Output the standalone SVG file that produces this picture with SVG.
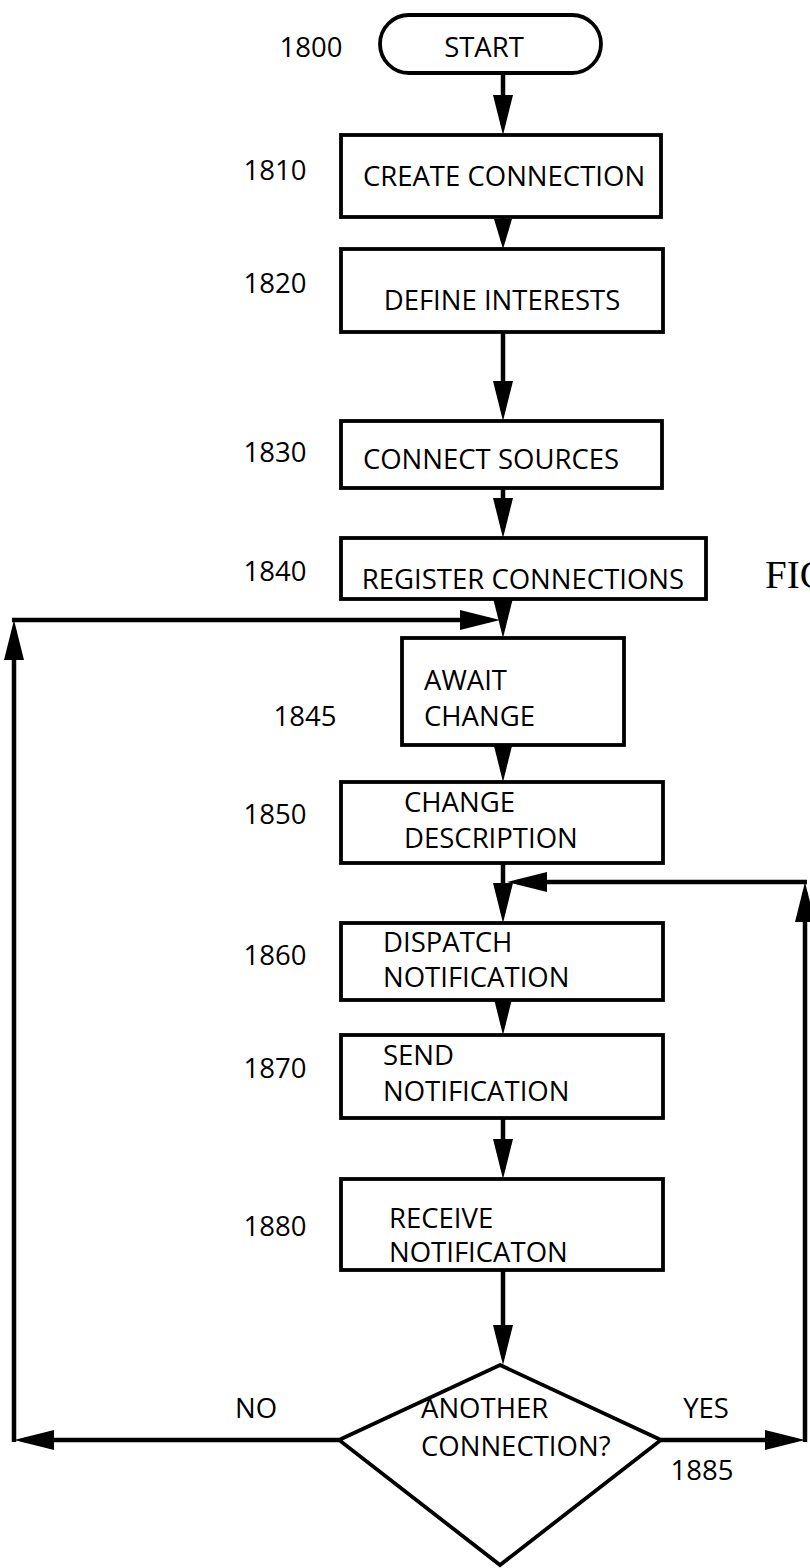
<svg xmlns="http://www.w3.org/2000/svg" width="810" height="1568" viewBox="0 0 810 1568">
<style>
.box{fill:#fff;stroke:#000;stroke-width:3.8}
.t{font-family:"Open Sans","DejaVu Sans",sans-serif;font-size:27.5px;fill:#000}
.c{text-anchor:middle}
.ln{fill:none;stroke:#000;stroke-width:4.5}
.fig{font-family:"Liberation Serif",serif;font-size:39px;fill:#000}
</style>
<defs>
<marker id="ah" viewBox="0 0 40 20" refX="30" refY="10" markerWidth="40" markerHeight="20" markerUnits="userSpaceOnUse" orient="auto"><path d="M0,0 L40,10 L0,20 Z" fill="#000"/></marker>
<marker id="ahs" viewBox="0 0 30 18" refX="22" refY="9" markerWidth="30" markerHeight="18" markerUnits="userSpaceOnUse" orient="auto"><path d="M0,0 L30,9 L0,18 Z" fill="#000"/></marker>
</defs>
<rect width="810" height="1568" fill="#fff"/>
<g id="connectors">
<path class="ln" d="M503,73 V125" marker-end="url(#ah)"/>
<path class="ln" d="M503,217 V241" marker-end="url(#ahs)"/>
<path class="ln" d="M503,332 V411" marker-end="url(#ah)"/>
<path class="ln" d="M503,488 V528" marker-end="url(#ah)"/>
<path class="ln" d="M503,599 V628" marker-end="url(#ah)"/>
<path class="ln" d="M503,745 V772" marker-end="url(#ah)"/>
<path class="ln" d="M503,863 V913" marker-end="url(#ah)"/>
<path class="ln" d="M503,1000 V1025" marker-end="url(#ah)"/>
<path class="ln" d="M503,1118 V1169" marker-end="url(#ah)"/>
<path class="ln" d="M503,1270 V1355" marker-end="url(#ah)"/>
<path class="ln" d="M339,1440 H24" marker-end="url(#ah)"/>
<path class="ln" d="M14,1442 V630" marker-end="url(#ah)"/>
<path class="ln" d="M12,620 H490" marker-end="url(#ah)"/>
<path class="ln" d="M661,1440 H795" marker-end="url(#ah)"/>
<path class="ln" d="M805,1442 V892" marker-end="url(#ah)"/>
<path class="ln" d="M807,882 H517" marker-end="url(#ah)"/>
</g>
<g id="n1800">
<rect class="box" x="380" y="15" width="221" height="58" rx="29" ry="29"/>
<text class="t c" x="484" y="57">START</text>
<text class="t c" x="311" y="57">1800</text>
</g>
<g id="n1810">
<rect class="box" x="341" y="135" width="320" height="82"/>
<text class="t c" x="504" y="186">CREATE CONNECTION</text>
<text class="t c" x="275" y="180">1810</text>
</g>
<g id="n1820">
<rect class="box" x="341" y="249" width="322" height="83"/>
<text class="t c" x="502" y="310">DEFINE INTERESTS</text>
<text class="t c" x="275" y="293">1820</text>
</g>
<g id="n1830">
<rect class="box" x="341" y="421" width="321" height="67"/>
<text class="t c" x="491" y="469">CONNECT SOURCES</text>
<text class="t c" x="275" y="462">1830</text>
</g>
<g id="n1840">
<rect class="box" x="341" y="538" width="365" height="61"/>
<text class="t c" x="523" y="589">REGISTER CONNECTIONS</text>
<text class="t c" x="275" y="581">1840</text>
</g>
<text class="fig" x="765" y="588">FIG</text>
<g id="n1845">
<rect class="box" x="402" y="638" width="222" height="107"/>
<text class="t" x="424" y="690">AWAIT</text>
<text class="t" x="424" y="726">CHANGE</text>
<text class="t c" x="305" y="726">1845</text>
</g>
<g id="n1850">
<rect class="box" x="341" y="782" width="322" height="81"/>
<text class="t" x="404" y="812">CHANGE</text>
<text class="t" x="404" y="848">DESCRIPTION</text>
<text class="t c" x="275" y="824">1850</text>
</g>
<g id="n1860">
<rect class="box" x="341" y="923" width="322" height="77"/>
<text class="t" x="383" y="952">DISPATCH</text>
<text class="t" x="383" y="987">NOTIFICATION</text>
<text class="t c" x="275" y="965">1860</text>
</g>
<g id="n1870">
<rect class="box" x="341" y="1035" width="322" height="83"/>
<text class="t" x="383" y="1065">SEND</text>
<text class="t" x="383" y="1101">NOTIFICATION</text>
<text class="t c" x="275" y="1078">1870</text>
</g>
<g id="n1880">
<rect class="box" x="341" y="1179" width="322" height="91"/>
<text class="t" x="389" y="1228">RECEIVE</text>
<text class="t" x="389" y="1262">NOTIFICATON</text>
<text class="t c" x="275" y="1236">1880</text>
</g>
<g id="n1885">
<polygon class="box" points="500,1365 661,1440 500,1565 339,1440"/>
<text class="t" x="421" y="1418">ANOTHER</text>
<text class="t" x="421" y="1456">CONNECTION?</text>
<text class="t c" x="702" y="1480">1885</text>
</g>
<g id="labels">
<text class="t c" x="256" y="1418">NO</text>
<text class="t c" x="706" y="1418">YES</text>
</g>
</svg>
